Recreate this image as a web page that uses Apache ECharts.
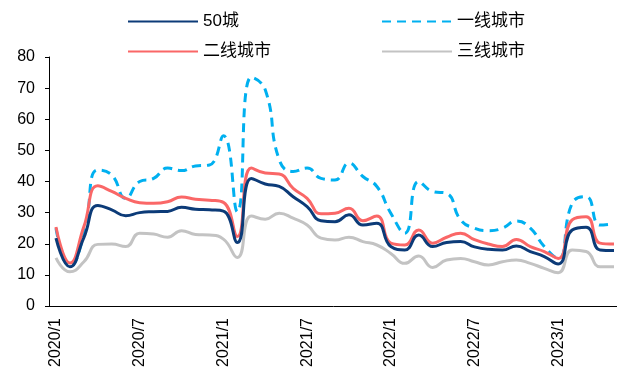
<!DOCTYPE html>
<html>
<head>
<meta charset="utf-8">
<script src="https://cdn.jsdelivr.net/npm/echarts@6/dist/echarts.min.js"></script>
<style>
  html, body { margin: 0; padding: 0; background: #ffffff; }
  #main { width: 617px; height: 376px; }
</style>
</head>
<body>
<div id="main"></div>
<script>
// months 2020/1 .. 2023/5
var months = []
for (var y = 2020; y <= 2023; y++) {
    for (var m = 1; m <= 12; m++) {
        if (y === 2023 && m > 5) break
        months.push(y + '/' + m)
    }
}

var city50 = [21.8, 12.6, 22, 32.3, 30.9, 29, 30, 30.3, 30.4, 31.7, 31.1, 30.9, 30.5, 20.4, 41, 39.2, 38.4, 35.1, 31.9, 27.4,
    27.1, 29.3, 26, 26.6, 19.1, 18, 22.8, 19.1, 20.4, 20.7, 19, 18.2, 18, 19.3, 17.5, 15.9, 13.5, 24.4, 25.3, 18, 17.8]
var tier1 = [25, 12.7, 23, 43.7, 42.1, 34.6, 40, 41, 44.3, 43.5, 45, 45.3, 54.7, 30.3, 73.5, 69.5, 47, 43.2, 44.3, 41,
    40.5, 45.9, 41.6, 38.4, 29.8, 23.4, 40, 36.8, 36.2, 27.7, 25, 24.2, 25, 27.3, 25, 19.1, 15.3, 33, 35.1, 26, 26.4]
var tier2 = [25.4, 13.8, 25.5, 38.6, 36.8, 34.6, 33.2, 33, 33.5, 35, 34.3, 34, 33.3, 22.3, 44.3, 42.7, 42.4, 37.8, 34.6, 29.6,
    29.8, 31.4, 27.4, 28.9, 20.2, 19.6, 24.4, 20.2, 22.1, 23.4, 21.3, 19.9, 19.1, 21.4, 19.1, 17.5, 15.3, 27.7, 28.7, 20.2, 19.9]
var tier3 = [15.5, 11, 14.2, 19.8, 19.9, 19.1, 23.4, 23.1, 22.1, 24.2, 23, 22.8, 21.5, 15.6, 28.9, 27.9, 29.8, 28.2, 26, 21.8,
    21.2, 22.1, 20.7, 19.6, 16.9, 13.7, 16.1, 12.4, 14.8, 15.3, 14.2, 13.2, 14.2, 14.8, 13.7, 12.1, 10.7, 18, 17.5, 12.6, 12.6]

var names = ['50城', '一线城市', '二线城市', '三线城市']
var font = "'Liberation Sans', Arial, 'Noto Sans CJK SC', sans-serif"

var myChart = echarts.init(document.getElementById('main'))

function legendAt(name, left, top) {
    return {
        data: [name],
        left: left,
        top: top,
        itemWidth: 70,
        itemHeight: 12,
        padding: 0,
        itemStyle: { opacity: 0 },
        textStyle: { fontSize: 17, color: '#000', fontFamily: font }
    }
}

var option = {
    animation: false,
    backgroundColor: '#ffffff',
    legend: [
        legendAt(names[0], 127, 13),
        legendAt(names[1], 381, 13),
        legendAt(names[2], 127, 43),
        legendAt(names[3], 381, 43)
    ],
    grid: {
        left: 49,
        top: 57,
        width: 572,
        height: 249,
        outerBoundsMode: 'none'
    },
    xAxis: {
        type: 'category',
        data: months,
        boundaryGap: true,
        axisLine: { lineStyle: { color: '#000', width: 1 } },
        axisTick: { interval: 4, length: 4, lineStyle: { color: '#000' } },
        axisLabel: {
            interval: 5,
            rotate: 90,
            margin: 12,
            fontSize: 16,
            color: '#000',
            fontFamily: font
        },
        splitLine: { show: false }
    },
    yAxis: {
        type: 'value',
        min: 0,
        max: 80,
        interval: 10,
        axisLine: { show: true, lineStyle: { color: '#000', width: 1 } },
        axisTick: { show: true, length: 4, lineStyle: { color: '#000' } },
        axisLabel: { fontSize: 16, color: '#000', margin: 14, fontFamily: font },
        splitLine: { show: false }
    },
    series: [{
        name: names[1],
        type: 'line',
        data: tier1,
        smooth: 0.5,
        symbol: 'none',
        z: 2,
        lineStyle: { color: '#00b0f0', width: 3, type: [9, 6] },
        itemStyle: { color: '#00b0f0' }
    }, {
        name: names[3],
        type: 'line',
        data: tier3,
        smooth: 0.5,
        symbol: 'none',
        z: 3,
        lineStyle: { color: '#c3c3c3', width: 3 },
        itemStyle: { color: '#c3c3c3' }
    }, {
        name: names[2],
        type: 'line',
        data: tier2,
        smooth: 0.5,
        symbol: 'none',
        z: 4,
        lineStyle: { color: '#fa6767', width: 3 },
        itemStyle: { color: '#fa6767' }
    }, {
        name: names[0],
        type: 'line',
        data: city50,
        smooth: 0.5,
        symbol: 'none',
        z: 5,
        lineStyle: { color: '#0c3b78', width: 3 },
        itemStyle: { color: '#0c3b78' }
    }]
}

myChart.setOption(option)
</script>
</body>
</html>
